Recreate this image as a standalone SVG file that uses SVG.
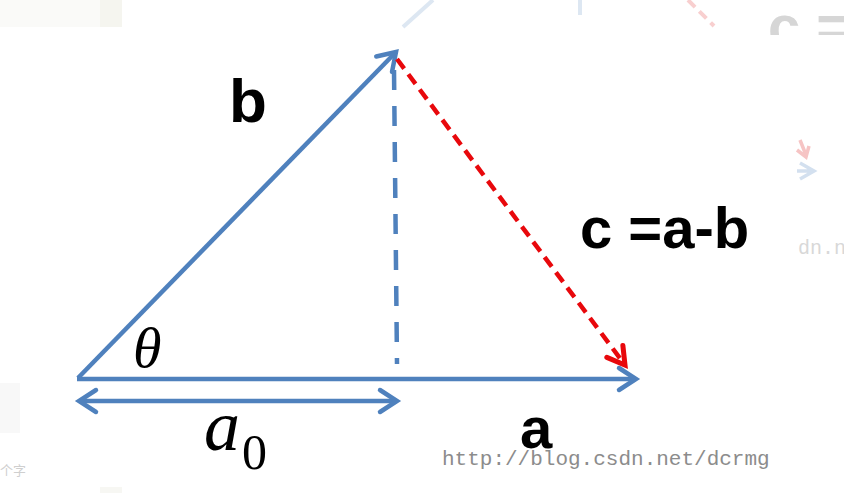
<svg xmlns="http://www.w3.org/2000/svg" width="844" height="493" viewBox="0 0 844 493">
<style>
.blue{stroke:#4f81bd;stroke-width:4.5;fill:none;stroke-linecap:butt}
.red{stroke:#e8080c;stroke-width:4.5;fill:none}
.lbl{font-family:"Liberation Sans",Arial,sans-serif;font-weight:bold;fill:#000}
.math{font-family:"Liberation Serif","Times New Roman",serif;fill:#000}
.wm{font-family:"Liberation Mono","DejaVu Sans Mono",monospace;fill:#8c8c8c}
.ghost{fill:#dcdcdc}
</style>
<defs>
<marker id="ahB" markerUnits="userSpaceOnUse" markerWidth="30" markerHeight="30" viewBox="-24 -15 30 30" refX="0" refY="0" orient="auto-start-reverse" overflow="visible">
<path d="M-17,-11 L0,0 L-17,11" fill="none" stroke="#4f81bd" stroke-width="4.5" stroke-linecap="round" stroke-linejoin="miter"/>
</marker>
<marker id="ahR" markerUnits="userSpaceOnUse" markerWidth="30" markerHeight="30" viewBox="-24 -15 30 30" refX="0" refY="0" orient="auto" overflow="visible">
<path d="M-17,-10 L0,0 L-17,10" fill="none" stroke="#e8080c" stroke-width="5" stroke-linecap="round" stroke-linejoin="miter"/>
</marker>
<clipPath id="topclip"><rect x="0" y="0" width="844" height="35"/></clipPath>
</defs>

<g id="background">
<rect x="0" y="0" width="844" height="493" fill="#ffffff"/>
<rect x="0" y="0" width="122" height="27" fill="#fafaf8"/>
<rect x="100" y="0" width="22" height="27" fill="#f5f5ef"/>
<rect x="0" y="383" width="20" height="50" fill="#f8f8f8"/>
<rect x="100" y="487" width="22" height="6" fill="#f7f7f3"/>
<line x1="403" y1="27" x2="433" y2="0" stroke="#dde7f2" stroke-width="4"/>
<line x1="580" y1="0" x2="580" y2="15" stroke="#dde7f2" stroke-width="4"/>
<line x1="688" y1="0" x2="714" y2="26" stroke="#f8cfcf" stroke-width="4" stroke-dasharray="10 6"/>
<text x="768" y="46" class="lbl ghost" font-size="58" clip-path="url(#topclip)" style="fill:#d6d6d6">c =</text>
<path d="M800,140 L806,155 M797,150 L806,157 L809,146" fill="none" stroke="#f6c4c4" stroke-width="3.5"/>
<path d="M800,163 L814,171 L800,179 M797,171 L814,171" fill="none" stroke="#d3e0ef" stroke-width="3.5"/>
<text x="798" y="254" class="wm" font-size="20" style="fill:#d8d8d8">dn.n</text>
<text x="0" y="475" font-family="'Noto Sans CJK SC',sans-serif" font-size="13" fill="#cfcfcf">个字</text>
</g>

<g id="connectors">
<line id="vec-b" x1="78" y1="378" x2="396" y2="52" class="blue" marker-end="url(#ahB)"/>
<line id="vec-a" x1="77" y1="379" x2="636" y2="379" class="blue" marker-end="url(#ahB)"/>
<line id="projection" x1="394" y1="70" x2="397" y2="364" class="blue" stroke-dasharray="20 16"/>
<line id="vec-c" x1="397" y1="59" x2="625" y2="365" class="red" stroke-dasharray="12 7" marker-end="url(#ahR)"/>
<line id="dim-a0" x1="79" y1="401" x2="397" y2="401" class="blue" stroke-width="3.5" marker-start="url(#ahB)" marker-end="url(#ahB)"/>
</g>

<g id="label-b"><text x="229" y="122" class="lbl" font-size="62">b</text></g>
<g id="label-c"><text x="580" y="248" class="lbl" font-size="58">c =a-b</text></g>
<g id="label-a"><text x="520" y="448" class="lbl" font-size="58">a</text></g>
<g id="label-theta"><text x="133" y="367" class="math" font-style="italic" font-size="58">θ</text></g>
<g id="label-a0"><text x="204" y="450" class="math" font-style="italic" font-size="72">a</text><text x="242" y="469" class="math" font-size="50">0</text></g>

<g id="watermark"><text x="442" y="465" class="wm" font-size="21">http://blog.csdn.net/dcrmg</text></g>
</svg>
